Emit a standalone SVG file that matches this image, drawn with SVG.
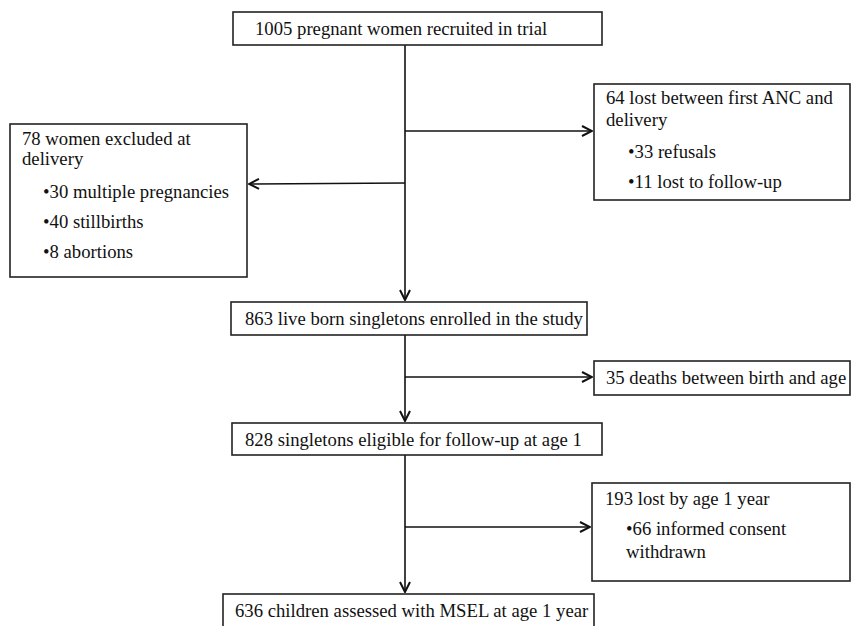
<svg xmlns="http://www.w3.org/2000/svg" width="852" height="626" viewBox="0 0 852 626">
<defs>
<marker id="arr" viewBox="0 0 12 12" refX="11" refY="6" markerWidth="12" markerHeight="12" markerUnits="userSpaceOnUse" orient="auto">
<path d="M1,1 L11,6 L1,11" fill="none" stroke="#111" stroke-width="2"/>
</marker>
<style>
.box{fill:#fff;stroke:#222;stroke-width:1.6}
.t{font-family:'Liberation Serif','Times New Roman',serif;font-size:18.7px;fill:#111}
.ln{fill:none;stroke:#111;stroke-width:1.6}
</style>
</defs>
<rect width="852" height="626" fill="#fff"/>
<g id="connectors">
<line class="ln" x1="405" y1="45" x2="405" y2="300" marker-end="url(#arr)"/>
<line class="ln" x1="405" y1="131" x2="592" y2="131" marker-end="url(#arr)"/>
<line class="ln" x1="405" y1="183" x2="249" y2="184" marker-end="url(#arr)"/>
<line class="ln" x1="405" y1="335" x2="405" y2="421" marker-end="url(#arr)"/>
<line class="ln" x1="405" y1="377" x2="592" y2="377" marker-end="url(#arr)"/>
<line class="ln" x1="405" y1="455" x2="405" y2="592" marker-end="url(#arr)"/>
<line class="ln" x1="405" y1="527" x2="590" y2="527" marker-end="url(#arr)"/>
</g>
<g id="n1">
<rect class="box" x="233" y="12" width="369" height="33"/>
<text class="t" x="255" y="35">1005 pregnant women recruited in trial</text>
</g>
<g id="n2">
<rect class="box" x="594" y="84" width="256" height="116"/>
<text class="t" x="606" y="104">64 lost between first ANC and</text>
<text class="t" x="606" y="126">delivery</text>
<text class="t" x="628" y="158">•33 refusals</text>
<text class="t" x="628" y="188">•11 lost to follow-up</text>
</g>
<g id="n3">
<rect class="box" x="10" y="124" width="237" height="153"/>
<text class="t" x="22" y="145">78 women excluded at</text>
<text class="t" x="22" y="165">delivery</text>
<text class="t" x="43" y="198">•30 multiple pregnancies</text>
<text class="t" x="43" y="228">•40 stillbirths</text>
<text class="t" x="43" y="258">•8 abortions</text>
</g>
<g id="n4">
<rect class="box" x="231" y="302" width="356" height="33"/>
<text class="t" x="245" y="325">863 live born singletons enrolled in the study</text>
</g>
<g id="n5">
<rect class="box" x="594" y="361" width="256" height="34"/>
<text class="t" x="606" y="384">35 deaths between birth and age</text>
</g>
<g id="n6">
<rect class="box" x="232" y="423" width="370" height="32"/>
<text class="t" x="245" y="446">828 singletons eligible for follow-up at age 1</text>
</g>
<g id="n7">
<rect class="box" x="592" y="483" width="258" height="98"/>
<text class="t" x="605" y="505">193 lost by age 1 year</text>
<text class="t" x="626" y="535">•66 informed consent</text>
<text class="t" x="626" y="558">withdrawn</text>
</g>
<g id="n8">
<rect class="box" x="223" y="594" width="371" height="40"/>
<text class="t" x="235" y="617">636 children assessed with MSEL at age 1 year</text>
</g>
</svg>
